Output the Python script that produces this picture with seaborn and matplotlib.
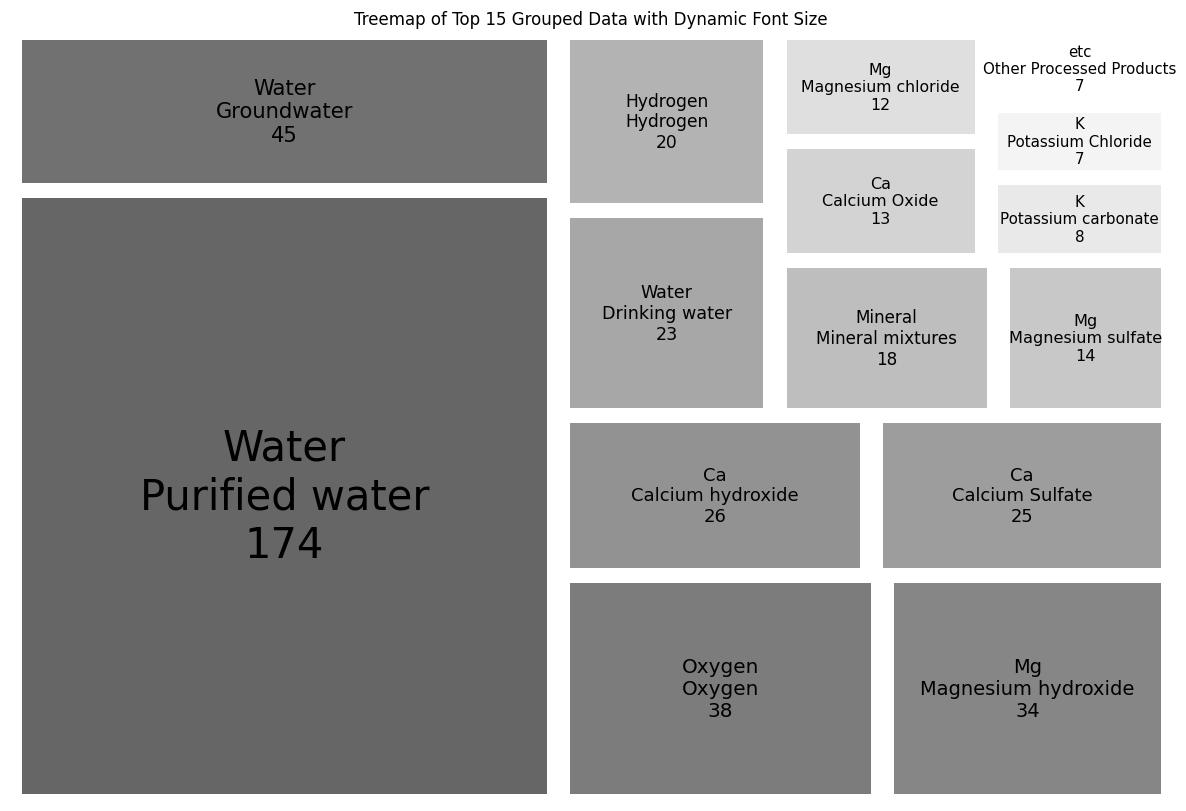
import matplotlib

matplotlib.use("Agg")
import matplotlib.pyplot as plt
import seaborn as sns

# top 15 grouped rows, largest first
groups = ["Water", "Water", "Oxygen", "Mg", "Ca", "Ca", "Water", "Hydrogen",
          "Mineral", "Mg", "Ca", "Mg", "K", "K", "etc"]
products = ["Purified water", "Groundwater", "Oxygen", "Magnesium hydroxide",
            "Calcium hydroxide", "Calcium Sulfate", "Drinking water", "Hydrogen",
            "Mineral mixtures", "Magnesium sulfate", "Calcium Oxide",
            "Magnesium chloride", "Potassium carbonate", "Potassium Chloride",
            "Other Processed Products"]
counts = [174, 45, 38, 34, 26, 25, 23, 20, 18, 14, 13, 12, 8, 7, 7]


# squarified layout (same algorithm as the squarify package)
def layout(sizes, x, y, dx, dy):
    rects = []
    if dx >= dy:
        w = sum(sizes) / dy
        for s in sizes:
            rects.append([x, y, w, s / w])
            y += s / w
    else:
        h = sum(sizes) / dx
        for s in sizes:
            rects.append([x, y, s / h, h])
            x += s / h
    return rects


def leftover(sizes, x, y, dx, dy):
    if dx >= dy:
        w = sum(sizes) / dy
        return x + w, y, dx - w, dy
    h = sum(sizes) / dx
    return x, y + h, dx, dy - h


def worst(sizes, x, y, dx, dy):
    return max(max(r[2] / r[3], r[3] / r[2]) for r in layout(sizes, x, y, dx, dy))


def squarify(sizes, x, y, dx, dy):
    if len(sizes) == 0:
        return []
    if len(sizes) == 1:
        return layout(sizes, x, y, dx, dy)
    i = 1
    while i < len(sizes) and worst(sizes[:i], x, y, dx, dy) >= worst(sizes[:i + 1], x, y, dx, dy):
        i += 1
    lx, ly, ldx, ldy = leftover(sizes[:i], x, y, dx, dy)
    return layout(sizes[:i], x, y, dx, dy) + squarify(sizes[i:], lx, ly, ldx, ldy)


total = sum(counts)
norm = [c * 100 * 100 / total for c in counts]
rects = squarify(norm, 0, 0, 100, 100)
for r in rects:
    if r[2] > 2:
        r[0] += 1
        r[2] -= 2
    if r[3] > 2:
        r[1] += 1
        r[3] -= 2

colors = sns.blend_palette(["#666666", "#ffffff"], len(counts))

fig = plt.figure(figsize=(11.86, 8.12), dpi=100)
ax = fig.add_axes([0.0085, 0.0115, 0.98, 0.9475])
ax.bar([r[0] for r in rects], [r[3] for r in rects], width=[r[2] for r in rects],
       bottom=[r[1] for r in rects], color=colors, align="edge")
for r, g, p, c in zip(rects, groups, products, counts):
    ax.text(r[0] + r[2] / 2, r[1] + r[3] / 2, f"{g}\n{p}\n{c}",
            ha="center", va="center", fontsize=10 + 20 * c / max(counts),
            color="black")
ax.set_xlim(0, 100)
ax.set_ylim(0, 100)
ax.axis("off")
ax.set_title("Treemap of Top 15 Grouped Data with Dynamic Font Size", fontsize=12)

fig.savefig("out.png", dpi=100)
plt.close("all")
